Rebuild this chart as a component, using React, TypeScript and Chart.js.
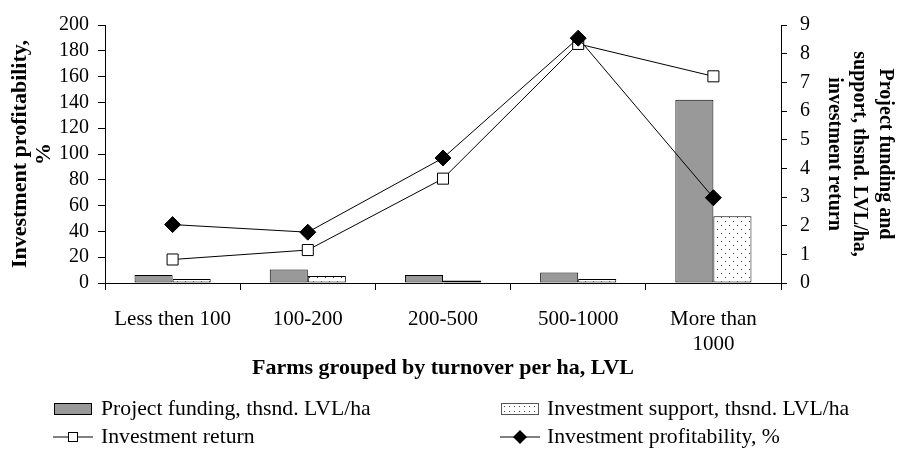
import React, { useEffect, useRef } from 'react';
import { Chart, registerables } from 'chart.js';

Chart.register(...registerables);

const categories: (string | string[])[] = ['Less then 100', '100-200', '200-500', '500-1000', ['More than', '1000']];
const projectFunding = [0.28, 0.47, 0.28, 0.37, 6.39];
const investmentSupport = [0.14, 0.24, 0.09, 0.14, 2.33];
const investmentReturn = [0.82, 1.15, 3.64, 8.34, 7.21];
const investmentProfitability = [45.3, 39.4, 96.9, 189.8, 66.1];

const leftAxisMin = 0;
const leftAxisMax = 200;
const leftAxisStep = 20;
const rightAxisMin = 0;
const rightAxisMax = 9;
const rightAxisStep = 1;

const xTitle = 'Farms grouped by turnover per ha, LVL';
const leftTitle = ['Investment profitability,', '%'];
const rightTitle = ['Project funding and', 'support, thsnd. LVL/ha,', 'investment return'];

const seriesNames = [
  'Project funding, thsnd. LVL/ha',
  'Investment support, thsnd. LVL/ha',
  'Investment return',
  'Investment profitability, %',
];

const SERIF = '"Liberation Serif", "Times New Roman", serif';

function makeDotPattern(): CanvasPattern | string {
  const c = document.createElement('canvas');
  c.width = 8;
  c.height = 8;
  const ctx = c.getContext('2d');
  if (!ctx) return '#fff';
  ctx.fillStyle = '#ffffff';
  ctx.fillRect(0, 0, 8, 8);
  ctx.fillStyle = '#333333';
  ctx.fillRect(1, 1, 1, 1);
  ctx.fillRect(5, 5, 1, 1);
  const p = ctx.createPattern(c, 'repeat');
  return p || '#fff';
}

export default function App() {
  const ref = useRef<HTMLCanvasElement | null>(null);

  useEffect(() => {
    const canvas = ref.current;
    if (!canvas) return;
    const dots = makeDotPattern();
    const chart = new Chart(canvas, {
      type: 'bar',
      data: {
        labels: categories as any,
        datasets: [
          {
            type: 'line',
            label: seriesNames[3],
            data: investmentProfitability,
            yAxisID: 'y',
            borderColor: '#000',
            borderWidth: 1,
            backgroundColor: '#000',
            pointStyle: 'rectRot',
            pointRadius: 8,
            pointBackgroundColor: '#000',
            pointBorderColor: '#000',
            pointBorderWidth: 1,
            order: 1,
          } as any,
          {
            type: 'line',
            label: seriesNames[2],
            data: investmentReturn,
            yAxisID: 'y1',
            borderColor: '#000',
            borderWidth: 1,
            backgroundColor: '#fff',
            pointStyle: 'rect',
            pointRadius: 7.8,
            pointBackgroundColor: '#fff',
            pointBorderColor: '#000',
            pointBorderWidth: 1,
            order: 2,
          } as any,
          {
            type: 'bar',
            label: seriesNames[0],
            data: projectFunding,
            yAxisID: 'y1',
            backgroundColor: '#999999',
            borderColor: '#000',
            borderWidth: 1,
            borderSkipped: false,
            categoryPercentage: 0.563,
            barPercentage: 1,
            order: 3,
          },
          {
            type: 'bar',
            label: seriesNames[1],
            data: investmentSupport,
            yAxisID: 'y1',
            backgroundColor: dots as any,
            borderColor: '#000',
            borderWidth: 1,
            borderSkipped: false,
            categoryPercentage: 0.563,
            barPercentage: 1,
            order: 4,
          },
        ],
      },
      options: {
        animation: false,
        responsive: false,
        devicePixelRatio: 1,
        layout: { padding: { top: 13, bottom: 78, left: 0, right: 0 } },
        plugins: { legend: { display: false }, tooltip: { enabled: false } },
        scales: {
          x: {
            offset: true,
            grid: { offset: true, drawOnChartArea: false, drawTicks: true, tickLength: 7, color: '#000', lineWidth: 1 },
            border: { color: '#000', width: 1 },
            ticks: { color: '#000', font: { family: SERIF, size: 21, lineHeight: 1.2 }, padding: 17, maxRotation: 0, autoSkip: false },
            title: {
              display: true,
              text: xTitle,
              color: '#000',
              font: { family: SERIF, size: 22, weight: 'bold', lineHeight: 1.2 },
              padding: { top: 0, bottom: -2 },
            },
            afterFit: (s: any) => { s.height = 97; },
          },
          y: {
            position: 'left',
            min: leftAxisMin,
            max: leftAxisMax,
            grid: { drawOnChartArea: false, drawTicks: true, tickLength: 7, color: '#000' },
            border: { color: '#000', width: 1 },
            ticks: { stepSize: leftAxisStep, autoSkip: false, color: '#000', font: { family: SERIF, size: 20 }, padding: 9 },
            title: {
              display: true,
              text: leftTitle,
              color: '#000',
              font: { family: SERIF, size: 22, weight: 'bold', lineHeight: 1.1 },
              padding: { top: 8, bottom: 0 },
            },
            afterFit: (s: any) => { s.width = 105; },
          },
          y1: {
            position: 'right',
            min: rightAxisMin,
            max: rightAxisMax,
            grid: { drawOnChartArea: false, drawTicks: true, tickLength: 6, color: '#000' },
            border: { color: '#000', width: 1 },
            ticks: { stepSize: rightAxisStep, autoSkip: false, color: '#000', font: { family: SERIF, size: 20 }, padding: 13 },
            title: {
              display: true,
              text: rightTitle,
              color: '#000',
              font: { family: SERIF, size: 20, weight: 'bold', lineHeight: 1.28 },
              padding: { top: -1, bottom: 0 },
            },
            afterFit: (s: any) => { s.width = 116; },
          },
        },
      } as any,
    });
    return () => chart.destroy();
  }, []);

  const textStyle: React.CSSProperties = {
    position: 'absolute',
    fontFamily: SERIF,
    fontSize: 21.7,
    color: '#000',
    whiteSpace: 'nowrap',
    lineHeight: '24px',
  };

  return (
    <div style={{ position: 'fixed', left: 0, top: 0, width: 897, height: 458, background: '#fff' }}>
      <canvas ref={ref} width={897} height={458} style={{ position: 'absolute', left: 0, top: 0, width: 897, height: 458 }} />
      <div style={{ position: 'absolute', left: 54, top: 403, width: 38, height: 12, background: '#999', border: '1px solid #000', boxSizing: 'border-box' }} />
      <div style={{ ...textStyle, left: 101, top: 396 }}>{seriesNames[0]}</div>
      <div
        style={{
          position: 'absolute', left: 501, top: 403, width: 38, height: 12, boxSizing: 'border-box',
          border: '1px solid #555',
          backgroundColor: '#fff',
          backgroundImage: 'radial-gradient(#444 0.8px, transparent 1px)',
          backgroundSize: '5px 5px',
        }}
      />
      <div style={{ ...textStyle, left: 547, top: 396 }}>{seriesNames[1]}</div>
      <svg style={{ position: 'absolute', left: 53, top: 430 }} width={40} height={14}>
        <line x1={0} y1={7} x2={40} y2={7} stroke="#000" strokeWidth={1} />
        <rect x={15.5} y={2.5} width={9} height={9} fill="#fff" stroke="#000" strokeWidth={1} />
      </svg>
      <div style={{ ...textStyle, left: 101, top: 424 }}>{seriesNames[2]}</div>
      <svg style={{ position: 'absolute', left: 500, top: 430 }} width={40} height={14}>
        <line x1={0} y1={7} x2={40} y2={7} stroke="#000" strokeWidth={1} />
        <polygon points="20,0 27,7 20,14 13,7" fill="#000" />
      </svg>
      <div style={{ ...textStyle, left: 547, top: 424 }}>{seriesNames[3]}</div>
    </div>
  );
}
